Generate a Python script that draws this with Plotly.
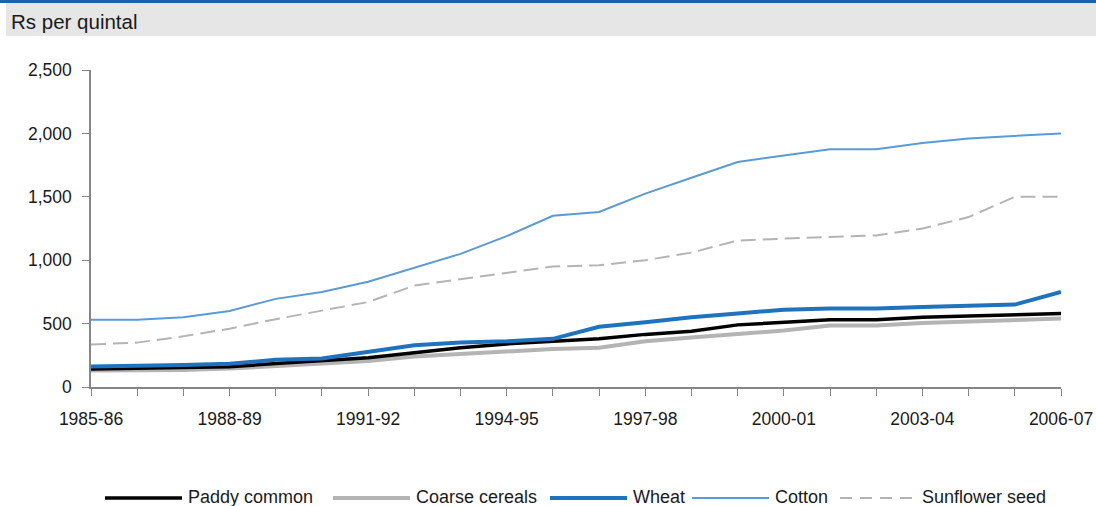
import plotly.graph_objects as go

# Crop years (x categories)
years = ["1985-86", "1986-87", "1987-88", "1988-89", "1989-90", "1990-91",
         "1991-92", "1992-93", "1993-94", "1994-95", "1995-96", "1996-97",
         "1997-98", "1998-99", "1999-00", "2000-01", "2001-02", "2002-03",
         "2003-04", "2004-05", "2005-06", "2006-07"]

# Minimum support prices, Rs per quintal
paddy_common = [142, 146, 150, 160, 185, 205, 230, 270, 310, 340, 360, 380,
                415, 440, 490, 510, 530, 530, 550, 560, 570, 580]
coarse_cereals = [130, 132, 135, 145, 165, 180, 205, 240, 260, 280, 300, 310,
                  360, 390, 415, 445, 485, 485, 505, 515, 525, 540]
wheat = [162, 166, 173, 183, 215, 225, 275, 330, 350, 360, 380, 475,
         510, 550, 580, 610, 620, 620, 630, 640, 650, 750]
cotton = [530, 530, 550, 600, 695, 750, 830, 940, 1050, 1190, 1350, 1380,
          1525, 1650, 1775, 1825, 1875, 1875, 1925, 1960, 1980, 2000]
sunflower_seed = [335, 350, 400, 460, 535, 600, 670, 800, 850, 900, 950, 960,
                  1000, 1060, 1155, 1170, 1185, 1195, 1250, 1340, 1500, 1500]

# Tick labels shown every third year
x_tick_text = [y if i % 3 == 0 else "" for i, y in enumerate(years)]
y_tick_vals = [0, 500, 1000, 1500, 2000, 2500]
y_tick_text = ["0", "500", "1,000", "1,500", "2,000", "2,500"]

W, H = 1096, 506
L, R, T, B = 91, 35, 70, 119
PW, PH = W - L - R, H - T - B

FONT = "Liberation Sans, Arial, sans-serif"
TEXT = "#1a1a1a"
AXIS = "#868686"

series = [
    # name, values, colour, width, dash
    ("Paddy common", paddy_common, "#000000", 3.5, "solid"),
    ("Coarse cereals", coarse_cereals, "#b4b4b4", 4, "solid"),
    ("Wheat", wheat, "#1f73be", 4, "solid"),
    ("Cotton", cotton, "#5b9bd5", 2, "solid"),
    ("Sunflower seed", sunflower_seed, "#b4b4b4", 2, "15px,7px"),
]
draw_order = [1, 0, 2, 4, 3]

fig = go.Figure()
for k in draw_order:
    name, vals, col, w, dash = series[k]
    fig.add_trace(go.Scatter(
        x=years, y=vals, name=name, mode="lines",
        line=dict(color=col, width=w, dash=dash),
        showlegend=False, hoverinfo="x+y+name"))


def px_x(px):
    return (px - L) / PW


def px_y(py):
    return (H - B - py) / PH


shapes = [
    # header band
    dict(type="rect", xref="paper", yref="paper", layer="below",
         x0=px_x(6), x1=px_x(W), y0=px_y(36), y1=px_y(3),
         fillcolor="#e6e6e6", line=dict(width=0)),
    dict(type="rect", xref="paper", yref="paper",
         x0=px_x(0), x1=px_x(W), y0=px_y(3), y1=px_y(0),
         fillcolor="#1a62ad", line=dict(width=0)),
]
annotations = [
    dict(text="Rs per quintal", xref="paper", yref="paper",
         x=px_x(9), y=px_y(21), xanchor="left", yanchor="middle",
         showarrow=False, font=dict(family=FONT, size=20.5, color=TEXT)),
]

# Legend row along the bottom
legend_pos = [(105, 182), (333, 410), (550, 627), (692, 769), (840, 916)]
ly = 498
for (name, vals, col, w, dash), (x0, x1) in zip(series, legend_pos):
    shapes.append(dict(type="line", xref="paper", yref="paper",
                       x0=px_x(x0), x1=px_x(x1), y0=px_y(ly), y1=px_y(ly),
                       line=dict(color=col, width=w,
                                 dash="12px,8px" if dash != "solid" else "solid")))
    annotations.append(dict(text=name, xref="paper", yref="paper",
                            x=px_x(x1 + 4), y=px_y(ly - 1),
                            xanchor="left", yanchor="middle", showarrow=False,
                            font=dict(family=FONT, size=18, color=TEXT)))

fig.update_layout(
    width=W, height=H,
    margin=dict(l=L, r=R, t=T, b=B, pad=0, autoexpand=False),
    paper_bgcolor="white", plot_bgcolor="white",
    shapes=shapes, annotations=annotations,
    xaxis=dict(type="category", range=[0, len(years) - 1], automargin=False,
               tickmode="array", tickvals=years, ticktext=x_tick_text,
               ticks="outside", ticklen=7, tickwidth=1, tickcolor=AXIS,
               showline=True, linecolor=AXIS, linewidth=1.5,
               showgrid=False, zeroline=False, ticklabelstandoff=8,
               tickfont=dict(family=FONT, size=17.5, color=TEXT)),
    yaxis=dict(range=[0, 2500], tickmode="array", tickvals=y_tick_vals,
               ticktext=y_tick_text, automargin=False,
               ticks="outside", ticklen=7, tickwidth=1, tickcolor=AXIS,
               showline=True, linecolor=AXIS, linewidth=1.5,
               showgrid=False, zeroline=False, ticklabelstandoff=7,
               tickfont=dict(family=FONT, size=17.5, color=TEXT)),
)

fig.write_html("out.html")
